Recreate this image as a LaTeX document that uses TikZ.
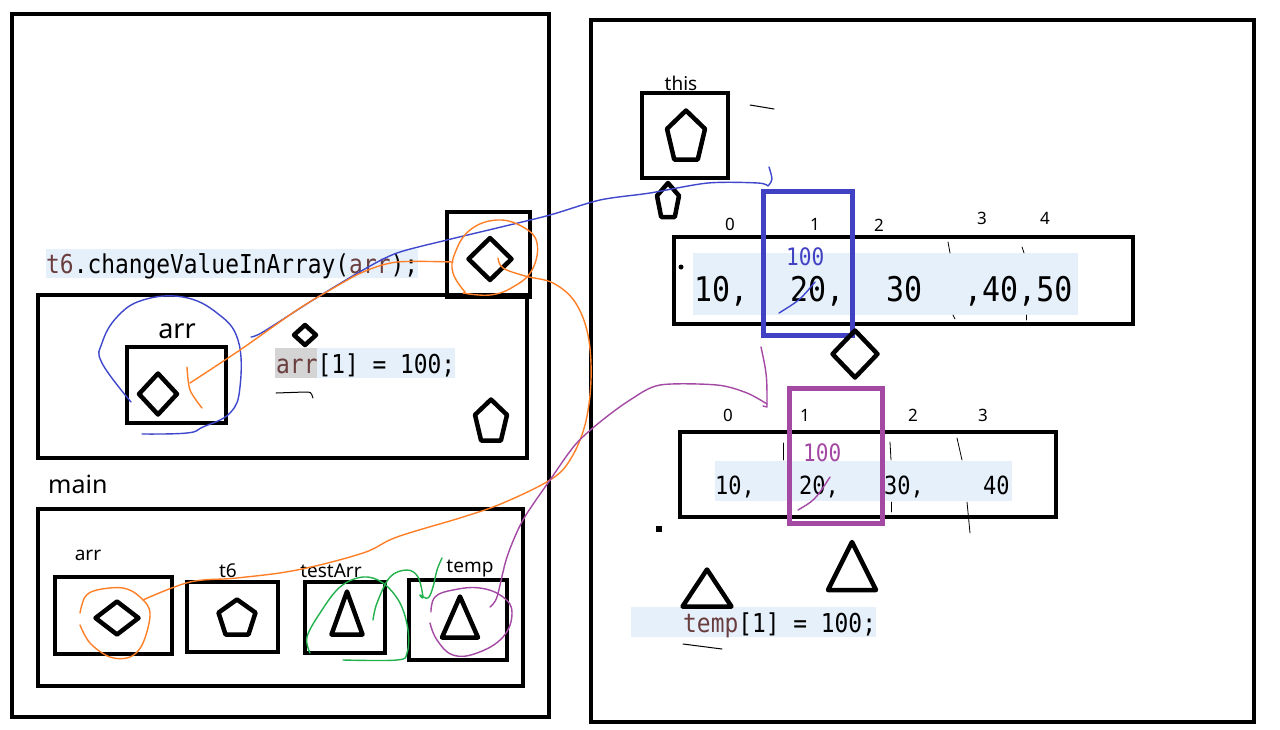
\documentclass[tikz,border=0pt]{standalone}
\usepackage{fontspec}
\setmainfont{Noto Sans}
\newfontfamily\codefont[FakeStretch=0.88]{DejaVu Sans Mono}
\usepackage{xcolor}
\usetikzlibrary{positioning,calc}
\definecolor{hlblue}{HTML}{E6F0FB}
\definecolor{hlgray}{HTML}{D4D4D4}
\definecolor{varbrown}{HTML}{6A3E3E}
\definecolor{pindigo}{HTML}{3F48CC}
\definecolor{rblue}{HTML}{4141C3}
\definecolor{ppurple}{HTML}{A349A4}
\definecolor{porange}{HTML}{FF7F27}
\definecolor{pgreen}{HTML}{22B14C}
\newcommand{\var}[1]{{\color{varbrown}#1}}

\begin{document}
\begin{tikzpicture}[x=1pt,y=-1pt,
    box/.style={draw,line width=4.5pt,inner sep=0pt},
    frame/.style={draw,line width=4pt,inner sep=0pt},
    shp/.style={draw,line width=4.5pt,line join=round},
    handline/.style={line width=1.4pt,line cap=round,line join=round},
    bluehand/.style={handline,draw=pindigo},
    orangehand/.style={handline,draw=porange},
    purplehand/.style={handline,draw=ppurple},
    greenhand/.style={handline,draw=pgreen},
    inkhand/.style={line width=1pt,line cap=round,draw=black},
    code/.style={inner sep=0pt,anchor=base west,font=\codefont\fontsize{26}{30}\selectfont},
    lbl/.style={inner sep=0pt,anchor=base,font=\fontsize{19}{22}\selectfont},
    idx/.style={inner sep=0pt,anchor=base,font=\fontsize{17}{20}\selectfont},
    diam/.pic={\draw[shp] (0,-1)--(1,0)--(0,1)--(-1,0)--cycle;},
    penta/.pic={\draw[shp] (0,-1)--(1,-0.25)--(0.62,1)--(-0.62,1)--(-1,-0.25)--cycle;},
    tri/.pic={\draw[shp] (0,-1)--(1,1)--(-1,1)--cycle;},
  ]
  \fill[white] (0,0) rectangle (1280,729);
  \useasboundingbox (0,0) rectangle (1280,729);

  % highlights
  \fill[hlblue] (46,249) rectangle (418,278);
  \fill[hlblue] (275,348) rectangle (455,378);
  \fill[hlgray] (275,348) rectangle (317,378);
  \fill[hlblue] (693,253) rectangle (1078,315);
  \fill[hlblue] (715,461) rectangle (1012,501);
  \fill[hlblue] (631,607) rectangle (876,637);

  % stack side
  \node[frame,minimum width=537pt,minimum height=703pt] (stack) at (280.5,365.5) {};
  \node[box,minimum width=83pt,minimum height=85pt] (param) at (488.5,254.5) {};
  \node[box,minimum width=489pt,minimum height=163pt] (method) at (282.5,376.5) {};
  \node[box,minimum width=99pt,minimum height=76pt] (marr) at (176.5,385) {};
  \node[box,minimum width=485pt,minimum height=177pt] (main) at (280.5,597.5) {};
  \node[box,minimum width=117pt,minimum height=77pt] (arrbox) at (113.5,615.5) {};
  \node[box,minimum width=91pt,minimum height=70pt] (tsixbox) at (232.5,617) {};
  \node[box,minimum width=80pt,minimum height=71pt] (testbox) at (345,617.5) {};
  \node[box,minimum width=98pt,minimum height=80pt] (tempbox) at (458,620) {};

  \node[code] (call) at (46,273) {\var{t6}.changeValueInArray(\var{arr});};
  \node[code] (assign) at (276,373) {\var{arr}[1] = 100;};
  \node[lbl,font=\fontsize{27}{30}\selectfont] (marrlbl) at (177,338) {arr};
  \node[lbl,anchor=base west,font=\fontsize{25}{30}\selectfont] (mainlbl) at (48,493) {main};
  \node[lbl] (arrlbl) at (88,560) {arr};
  \node[lbl] (tsixlbl) at (228,577) {t6};
  \node[lbl] (testlbl) at (331,577) {testArr};
  \node[lbl] (templbl) at (470,572) {temp};

  \pic[xscale=21.5,yscale=21] at (490,259) {diam};
  \pic[xscale=19,yscale=20.5] at (158,394) {diam};
  \pic[xscale=11,yscale=10] at (305,335) {diam};
  \pic[xscale=16,yscale=20.5] at (491,420) {penta};
  \pic[xscale=21.5,yscale=16.5] at (117,618) {diam};
  \pic[xscale=18.5,yscale=17.5] at (237,617) {penta};
  \pic[xscale=15.5,yscale=21.5] at (347,613) {tri};
  \pic[xscale=18,yscale=20.5] at (460,617) {tri};
  \draw[inkhand] (276,393) -- (305,392) .. controls (311,392) .. (313,398);

  % heap side
  \node[frame,minimum width=663pt,minimum height=702pt] (heap) at (922.5,371) {};
  \node[box,minimum width=86pt,minimum height=85pt] (thisbox) at (685,135.5) {};
  \node[lbl] (thislbl) at (681,90) {this};
  \pic[xscale=19,yscale=24.5] at (686,135) {penta};
  \pic[xscale=11,yscale=17] at (668,200) {penta};
  \draw[inkhand] (750,105) -- (774,109);

  \node[box,minimum width=459pt,minimum height=87pt] (arrone) at (903.5,280.5) {};
  \foreach \i/\x/\y in {0/730/230,1/815/230,2/879/231,3/982/224,4/1045/224}
    \node[idx] (ione\i) at (\x,\y) {\i};
  \begin{scope}[code/.append style={font=\codefont\fontsize{34}{38}\selectfont}]
    \node[code] (vone0) at (694,301) {10,};
    \node[code] (vone1) at (790,301) {20,};
    \node[code] (vone2) at (886,301) {30};
    \node[code] (vone3) at (964,301) {,40,50};
  \end{scope}
  \node[code,font=\codefont\fontsize{24}{28}\selectfont,text=rblue] (newone) at (786,265) {100};
  \fill (681,267) circle (2.5);
  \foreach \a/\b in {{(948,242)}/{(950,253)},{(1022,247)}/{(1024,253)},{(953,315)}/{(955,319)},{(1026,315)}/{(1026,320)}}
    \draw[inkhand,line width=0.8pt] \a -- \b;
  \node[draw=rblue,line width=5pt,inner sep=0pt,minimum width=89pt,minimum height=144pt] (hitone) at (807.5,263) {};
  \pic[xscale=22.5,yscale=23.5] at (855,354) {diam};

  \node[box,minimum width=376pt,minimum height=85pt] (arrtwo) at (868,474.5) {};
  \foreach \i/\x in {0/728,1/805,2/913,3/983}
    \node[idx] (itwo\i) at (\x,421) {\i};
  \begin{scope}[code/.append style={font=\codefont\fontsize{25}{30}\selectfont}]
    \node[code] (vtwo0) at (715,494) {10,};
    \node[code] (vtwo1) at (799,494) {20,};
    \node[code] (vtwo2) at (884,494) {30,};
    \node[code] (vtwo3) at (983,494) {40};
  \end{scope}
  \node[code,font=\codefont\fontsize{24}{28}\selectfont,text=ppurple] (newtwo) at (803,461) {100};
  \foreach \a/\b in {{(783,443)}/{(783,460)},{(890,442)}/{(891,460)},{(957,438)}/{(962,460)},{(891,502)}/{(891,512)},{(967,502)}/{(970,533)}}
    \draw[inkhand,line width=0.8pt] \a -- \b;
  \node[draw=ppurple,line width=5pt,inner sep=0pt,minimum width=93pt,minimum height=135pt] (hittwo) at (835.5,455.5) {};
  \fill (656,526) rectangle (662,532);
  \pic[xscale=24,yscale=24] at (852,566) {tri};
  \pic[xscale=24.5,yscale=18.5] at (707,588) {tri};
  \node[code] (tempset) at (683,632) {\var{temp}[1] = 100;};
  \draw[inkhand] (683,644) -- (722,649);

  % pen strokes
  \coordinate (bluea) at (251,337);
  \coordinate (blueb) at (769,167);
  \draw[bluehand] plot[smooth,tension=0.7] coordinates {(131,402) (102,363) (102,343) (117,317) (143,300) (183,297) (217,313) (238,340) (240,387) (230,413) (203,427) (187,433) (142,434)};
  \draw[bluehand] plot[smooth] coordinates {(bluea) (263,332) (313,300) (363,270) (397,253) (447,240) (497,228) (550,215) (600,200) (650,193) (708,183) (758,183) (768,186)}
    .. controls (773,180) .. (blueb);
  \draw[bluehand] (779,313) .. controls (800,300) .. (815,282);

  \coordinate (orga) at (202,408);
  \coordinate (orgb) at (453,262);
  \draw[orangehand] plot[smooth,tension=0.7] coordinates {(465,292) (453,273) (455,253) (470,230) (497,220) (523,227) (537,243) (532,270) (513,287) (490,295) (463,293)};
  \draw[orangehand] plot[smooth] coordinates {(orgb) (397,262) (363,272) (330,290) (297,310) (240,350) (190,383)};
  \draw[orangehand] plot[smooth] coordinates {(187,367) (190,390) (orga)};
  \draw[orangehand] plot[smooth,tension=0.6] coordinates {(80,613) (85,597) (97,590) (123,588) (140,597) (150,613) (143,643) (130,657) (110,657) (90,643) (80,625)};
  \coordinate (orgc) at (143,600);
  \coordinate (orgd) at (498,258);
  \draw[orangehand] plot[smooth,tension=0.6] coordinates {(orgc) (190,582) (237,578) (297,570) (363,553) (397,537) (463,517) (503,503) (550,480) (570,460) (585,425) (591,380) (588,335) (575,302) (553,283) (525,276) (503,268) (orgd)};

  \coordinate (purpa) at (490,607);
  \coordinate (purpb) at (767,404);
  \draw[purplehand] plot[smooth,tension=0.7] coordinates {(431,612) (435,597) (453,590) (480,588) (503,597) (512,613) (503,637) (477,653) (453,655) (437,640) (430,623)};
  \draw[purplehand] plot[smooth] coordinates {(purpa) (497,597) (507,557) (523,520) (550,480) (575,445) (600,422) (630,400) (660,385) (717,385) (747,393) (purpb)};
  \draw[purplehand] (761,347) .. controls (767,375) .. (767,407) -- (763,406);
  \draw[purplehand] (798,510) .. controls (815,500) .. (830,477);

  \draw[greenhand] plot[smooth,tension=0.6] coordinates {(310,653) (307,637) (320,613) (340,587) (363,577) (383,583) (400,603) (408,630) (407,653) (397,660) (343,660)};
  \draw[greenhand] plot[smooth,tension=0.6] coordinates {(373,620) (377,603) (390,577) (407,570) (418,577) (423,597) (420,595) (428,598) (433,587) (437,570) (442,558)};
\end{tikzpicture}
\end{document}
